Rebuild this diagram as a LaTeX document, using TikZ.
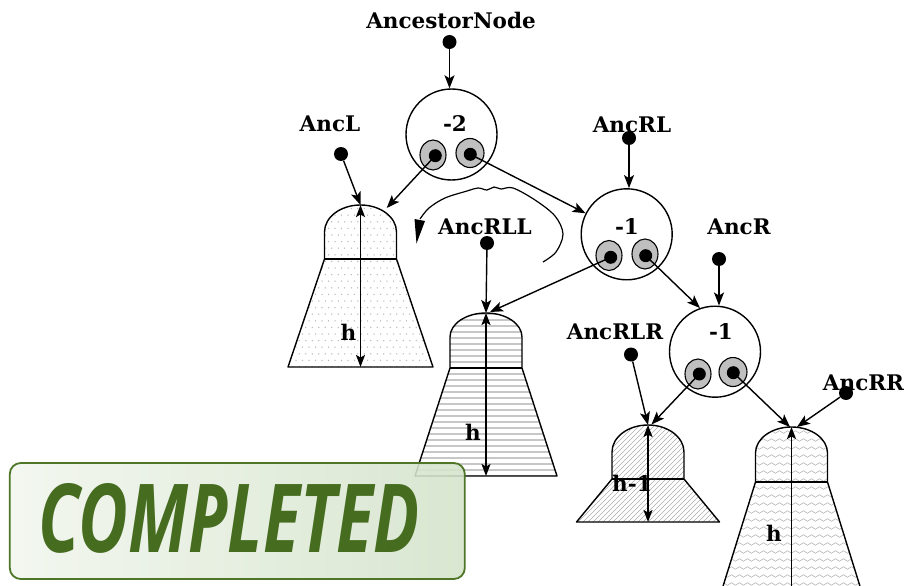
\documentclass[tikz,border=0pt]{standalone}
\usepackage{fontspec}
\newfontfamily\osfont{Open Sans}
\newfontfamily\lblfont{DejaVu Serif}
\usepackage{graphicx}
\usetikzlibrary{arrows.meta,shapes.geometric,decorations.pathmorphing}
\definecolor{boxborder}{RGB}{78,118,38}
\definecolor{boxtext}{RGB}{70,108,32}
\definecolor{boxleft}{RGB}{242,246,238}
\definecolor{boxright}{RGB}{212,228,203}

\newcommand\drawtree[7]{%
  \begin{scope}
    \clip ({#1-36},#4) -- ({#1-36},#3) .. controls ({#1-36},{#3-0.552*(#3-#2)}) and ({#1-19.9},#2) .. (#1,#2) .. controls ({#1+19.9},#2) and ({#1+36},{#3-0.552*(#3-#2)}) .. ({#1+36},#3) -- ({#1+36},#4) -- ({#1+#6},#5) -- ({#1-#6},#5) -- cycle;
    \fill[white] (0,0) rectangle (906,620);
    #7
  \end{scope}
  \draw[treeline] ({#1-36},#4) -- ({#1-36},#3) .. controls ({#1-36},{#3-0.552*(#3-#2)}) and ({#1-19.9},#2) .. (#1,#2) .. controls ({#1+19.9},#2) and ({#1+36},{#3-0.552*(#3-#2)}) .. ({#1+36},#3) -- ({#1+36},#4) -- ({#1+#6},#5) -- ({#1-#6},#5) -- cycle;
  \draw[treeline] ({#1-36},#4) -- ({#1+36},#4);
}
\newcommand\patdots{\foreach \i in {0,...,26}{\foreach \j in {0,...,25}{\fill[black!28] ({283+\i*6.5+mod(\j,2)*3.25},{202+\j*6.6}) circle[radius=0.75pt];}}}
\newcommand\patstripes{\foreach \y in {314,320,...,482}{\draw[black!22,line width=2.6pt] (400,\y) -- (580,\y);}}
\newcommand\pathatch{\foreach \k in {-15,-10,...,280}{\draw[black!32,line width=0.6pt] ({500+\k},540) -- ({630+\k},410);}}
\newcommand\patwaves{\foreach \y in {424,432,...,600}{\draw[black!28,line width=0.6pt,decorate,decoration={snake,amplitude=1.3pt,segment length=8pt}] (705,\y) -- (885,\y);}}

\begin{document}
\begin{tikzpicture}[x=1pt,y=-1pt,
  lbl/.style={font=\lblfont\bfseries\fontsize{21.5}{26}\selectfont, anchor=base, inner sep=0pt},
  dotn/.style={circle, fill=black, minimum size=14pt, inner sep=0pt},
  eyedot/.style={circle, fill=black, minimum size=13pt, inner sep=0pt},
  bignode/.style={circle, draw, line width=1.4pt, minimum size=91pt, inner sep=0pt},
  eye/.style={ellipse, draw, fill=black!25, line width=1.1pt, minimum width=26pt, minimum height=30pt, inner sep=0pt},
  conn/.style={-{Stealth[length=13pt,width=10pt,inset=3pt]}, line width=1.4pt},
  harrow/.style={{Stealth[length=12pt,width=9pt,inset=2.5pt]}-{Stealth[length=12pt,width=9pt,inset=2.5pt]}, line width=1.4pt},
  treeline/.style={line width=1.4pt, line join=round},
  curveline/.style={line width=1.2pt},
  cbox/.style={rounded corners=11pt, draw=boxborder, line width=1.8pt, left color=boxleft, right color=boxright, fill opacity=0.88, draw opacity=1},
  ctext/.style={anchor=base west, inner sep=0pt, text=boxtext}
]
\clip (0,0) rectangle (906,586);
\fill[white] (0,0) rectangle (906,586);

% trees
\drawtree{360.5}{205}{232}{259}{367}{72.5}{\patdots}
\drawtree{486}{313}{337}{368}{476}{71}{\patstripes}
\drawtree{648}{425}{452}{479}{522}{71.5}{\pathatch}
\drawtree{791.5}{427}{453}{482}{620}{79}{\patwaves}

% tree tops
\coordinate (tL) at (360.5,205);
\coordinate (tLs) at (386.7,208);
\coordinate (bL) at (360.5,367);
\coordinate (tRLL) at (486,313);
\coordinate (tRLLs) at (490,312);
\coordinate (bRLL) at (486,476);
\coordinate (tRLR) at (648,425);
\coordinate (tRLRs) at (651.5,424.5);
\coordinate (bRLR) at (648,522);
\coordinate (tRR) at (791.5,427);
\coordinate (tRRa) at (790,427);
\coordinate (tRRb) at (797,427);
\coordinate (bRR) at (791.5,600);

% height arrows
\draw[harrow] (tL) -- (bL);
\draw[harrow] (tRLL) -- (bRLL);
\draw[harrow] (tRLR) -- (bRLR);
\draw[harrow] (tRR) -- (bRR);

% labels
\node[lbl] (lAN) at (451,28.5) {AncestorNode};
\node[lbl] (lL) at (330,131.5) {AncL};
\node[lbl] (lRL) at (632,132) {AncRL};
\node[lbl] (lRLL) at (485,234) {AncRLL};
\node[lbl] (lR) at (739,234) {AncR};
\node[lbl] (lRLR) at (615,339.5) {AncRLR};
\node[lbl] (lRR) at (863.5,390.5) {AncRR};
\node[lbl] (n1) at (455,131.5) {-2};
\node[lbl] (n2) at (627,234) {-1};
\node[lbl] (n3) at (721,339.5) {-1};
\node[lbl] (hL) at (348.5,340) {h};
\node[lbl] (hRLL) at (473,440) {h};
\node[lbl] (hRLR) at (632,491.5) {h-1};
\node[lbl] (hRR) at (774,541.5) {h};

% big nodes
\node[bignode] (c1) at (451.5,134.5) {};
\node[bignode] (c2) at (626.7,234.3) {};
\node[bignode] (c3) at (715,351.7) {};

% eyes
\node[eye] (e1l) at (433,155) {};
\node[eye, minimum width=28pt, minimum height=29pt] (e1r) at (470,153) {};
\node[eye] (e2l) at (609,255.5) {};
\node[eye] (e2r) at (645,254) {};
\node[eye] (e3l) at (698,374) {};
\node[eye, minimum width=28pt, minimum height=29pt] (e3r) at (733,372) {};
\node[eyedot] (k1l) at (435.3,155.7) {};
\node[eyedot] (k1r) at (470.3,154.3) {};
\node[eyedot] (k2l) at (610.7,257.3) {};
\node[eyedot] (k2r) at (645.7,255.7) {};
\node[eyedot] (k3l) at (699.3,374) {};
\node[eyedot] (k3r) at (733.3,372.7) {};

% pointer dots
\node[dotn] (dAN) at (449.5,42) {};
\node[dotn] (dL) at (341,154) {};
\node[dotn] (dRL) at (629,138) {};
\node[dotn] (dRLL) at (487,243) {};
\node[dotn] (dR) at (719,259) {};
\node[dotn] (dRLR) at (631,354.5) {};
\node[dotn] (dRR) at (846,393) {};

% connectors
\draw[conn] (dAN) -- (dAN |- c1.north);
\draw[conn] (dL) -- (tL);
\draw[conn] (k1l.center) -- (tLs);
\draw[conn] (k1r.center) -- (c2);
\draw[conn] (dRL) -- (dRL |- c2.north);
\draw[conn] (dRLL) -- (tRLL);
\draw[conn] (k2l.center) -- (tRLLs);
\draw[conn] (k2r.center) -- (c3.109);
\draw[conn] (dR) -- (dR |- c3.north);
\draw[conn] (dRLR) -- (tRLR);
\draw[conn] (k3l.center) -- (tRLRs);
\draw[conn] (k3r.center) -- (tRRa);
\draw[conn] (dRR) -- (tRRb);

% free-hand rotation arrow
\draw[curveline] plot[smooth, tension=0.55] coordinates {(543,262) (556,252) (563,234) (555,216) (535,200) (513,188) (501,189) (494,187) (487,190) (478,188) (467,191) (445,198) (429,208) (420,219)};
\fill (414.5,219) -- (425,221) -- (416.5,243.5) -- cycle;

% completed stamp
\node[cbox, minimum width=455pt, minimum height=116pt, inner sep=0pt] (stamp) at (237.3,521) {};
\node[ctext] (stamptext) at (38,552) {\resizebox{381pt}{69pt}{\osfont\bfseries\itshape COMPLETED}};
\end{tikzpicture}
\end{document}
